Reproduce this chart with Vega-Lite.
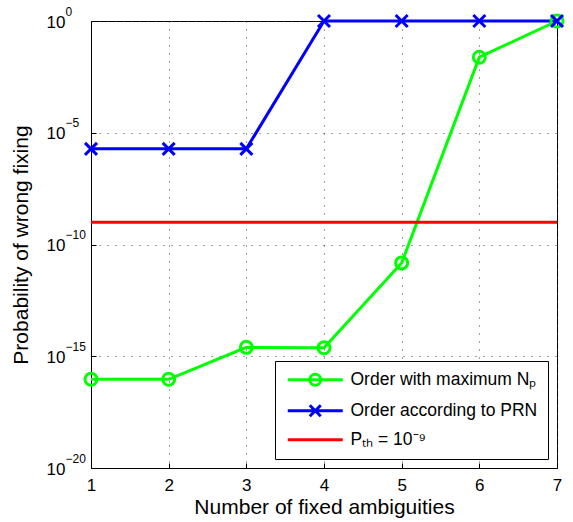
{
  "$schema": "https://vega.github.io/schema/vega-lite/v6.json",
  "width": 466,
  "height": 447,
  "autosize": {"type": "none"},
  "padding": {"left": 91, "top": 21, "right": 16, "bottom": 54},
  "background": "white",
  "config": {
    "font": "Liberation Sans",
    "view": {"stroke": "black", "strokeWidth": 1},
    "axis": {
      "labelFont": "Liberation Sans",
      "titleFont": "Liberation Sans",
      "labelColor": "black",
      "titleColor": "black",
      "titleFontWeight": "normal",
      "domainColor": "black",
      "tickColor": "black",
      "gridColor": "#444",
      "gridDash": [1, 7],
      "gridOpacity": 1,
      "gridWidth": 1
    }
  },
  "data": {
    "values": [
      {"x": 1, "p": 9.3e-17, "series": "Order with maximum Nₚ"},
      {"x": 2, "p": 9.3e-17, "series": "Order with maximum Nₚ"},
      {"x": 3, "p": 2.5e-15, "series": "Order with maximum Nₚ"},
      {"x": 4, "p": 2.4e-15, "series": "Order with maximum Nₚ"},
      {"x": 5, "p": 1.5e-11, "series": "Order with maximum Nₚ"},
      {"x": 6, "p": 0.024, "series": "Order with maximum Nₚ"},
      {"x": 7, "p": 1, "series": "Order with maximum Nₚ"},
      {"x": 1, "p": 1.9e-6, "series": "Order according to PRN"},
      {"x": 2, "p": 1.9e-6, "series": "Order according to PRN"},
      {"x": 3, "p": 1.9e-6, "series": "Order according to PRN"},
      {"x": 4, "p": 1, "series": "Order according to PRN"},
      {"x": 5, "p": 1, "series": "Order according to PRN"},
      {"x": 6, "p": 1, "series": "Order according to PRN"},
      {"x": 7, "p": 1, "series": "Order according to PRN"},
      {"x": 1, "p": 1e-9, "series": "Pₜₕ = 10⁻⁹"},
      {"x": 7, "p": 1e-9, "series": "Pₜₕ = 10⁻⁹"}
    ]
  },
  "encoding": {
    "x": {
      "field": "x",
      "type": "quantitative",
      "scale": {"domain": [1, 7], "nice": false, "zero": false},
      "axis": {
        "title": "Number of fixed ambiguities",
        "values": [1, 2, 3, 4, 5, 6, 7],
        "format": "d",
        "labelFontSize": 17,
        "titleFontSize": 21,
        "tickSize": -5,
        "labelPadding": 14,
        "titlePadding": 3,
        "labelFlush": false
      }
    },
    "color": {
      "field": "series",
      "type": "nominal",
      "scale": {
        "domain": ["Order with maximum Nₚ", "Order according to PRN", "Pₜₕ = 10⁻⁹"],
        "range": ["#00ff00", "#0000ff", "#ff0000"]
      },
      "legend": {
        "title": null,
        "orient": "bottom-right",
        "offset": 9,
        "strokeColor": "black",
        "fillColor": "white",
        "padding": 10,
        "labelFont": "Liberation Sans",
        "labelFontSize": 17.5,
        "labelColor": "black",
        "labelLimit": 400,
        "labelOffset": 48,
        "symbolSize": 121,
        "symbolStrokeWidth": 3,
        "rowPadding": 7,
        "cornerRadius": 0,
        "encode": {
          "symbols": {
            "update": {
              "shape": {"signal": "datum.index === 0 ? 'M-1.09,0H8.91M2.91,0A1,1 0 1,1 4.91,0A1,1 0 1,1 2.91,0' : datum.index === 1 ? 'M-1.09,0H8.91M2.91,-1L4.91,1M2.91,1L4.91,-1' : 'M-1.09,0H8.91'"},
              "fill": {"value": "transparent"},
              "strokeWidth": {"value": 3}
            }
          }
        }
      }
    }
  },
  "resolve": {"axis": {"y": "independent"}},
  "layer": [
    {
      "mark": {"type": "line", "strokeWidth": 3, "clip": false},
      "encoding": {
        "y": {
          "field": "p",
          "type": "quantitative",
          "scale": {"type": "log", "domain": [1e-20, 1], "nice": false},
          "axis": {
            "orient": "left",
            "title": "Probability of wrong fixing",
            "values": [1, 1e-5, 1e-10, 1e-15, 1e-20],
            "labelExpr": "'10'",
            "labelFontSize": 17,
            "labelBaseline": "middle",
            "labelOffset": 1,
            "titleFontSize": 21,
            "tickSize": -5,
            "labelPadding": 31,
            "titlePadding": 15,
            "labelFlush": false
          }
        }
      }
    },
    {
      "transform": [{"filter": "datum.series !== 'Pₜₕ = 10⁻⁹'"}],
      "mark": {"type": "point", "filled": false, "strokeWidth": 3, "size": 144, "opacity": 1, "clip": false},
      "encoding": {
        "y": {
          "field": "p",
          "type": "quantitative",
          "scale": {"type": "log", "domain": [1e-20, 1], "nice": false},
          "axis": {
            "orient": "left",
            "title": null,
            "values": [1, 1e-5, 1e-10, 1e-15, 1e-20],
            "labelExpr": "datum.value >= 0.5 ? '0' : datum.value >= 1e-6 ? '−5' : datum.value >= 1e-11 ? '−10' : datum.value >= 1e-16 ? '−15' : '−20'",
            "labelFontSize": 12,
            "labelAlign": "left",
            "labelBaseline": "middle",
            "labelOffset": -10,
            "ticks": false,
            "domain": false,
            "grid": false,
            "labelPadding": 26,
            "labelFlush": false
          }
        },
        "shape": {
          "field": "series",
          "type": "nominal",
          "scale": {
            "domain": ["Order with maximum Nₚ", "Order according to PRN"],
            "range": ["circle", "M-1,-1L1,1M-1,1L1,-1"]
          },
          "legend": null
        }
      }
    }
  ]
}
